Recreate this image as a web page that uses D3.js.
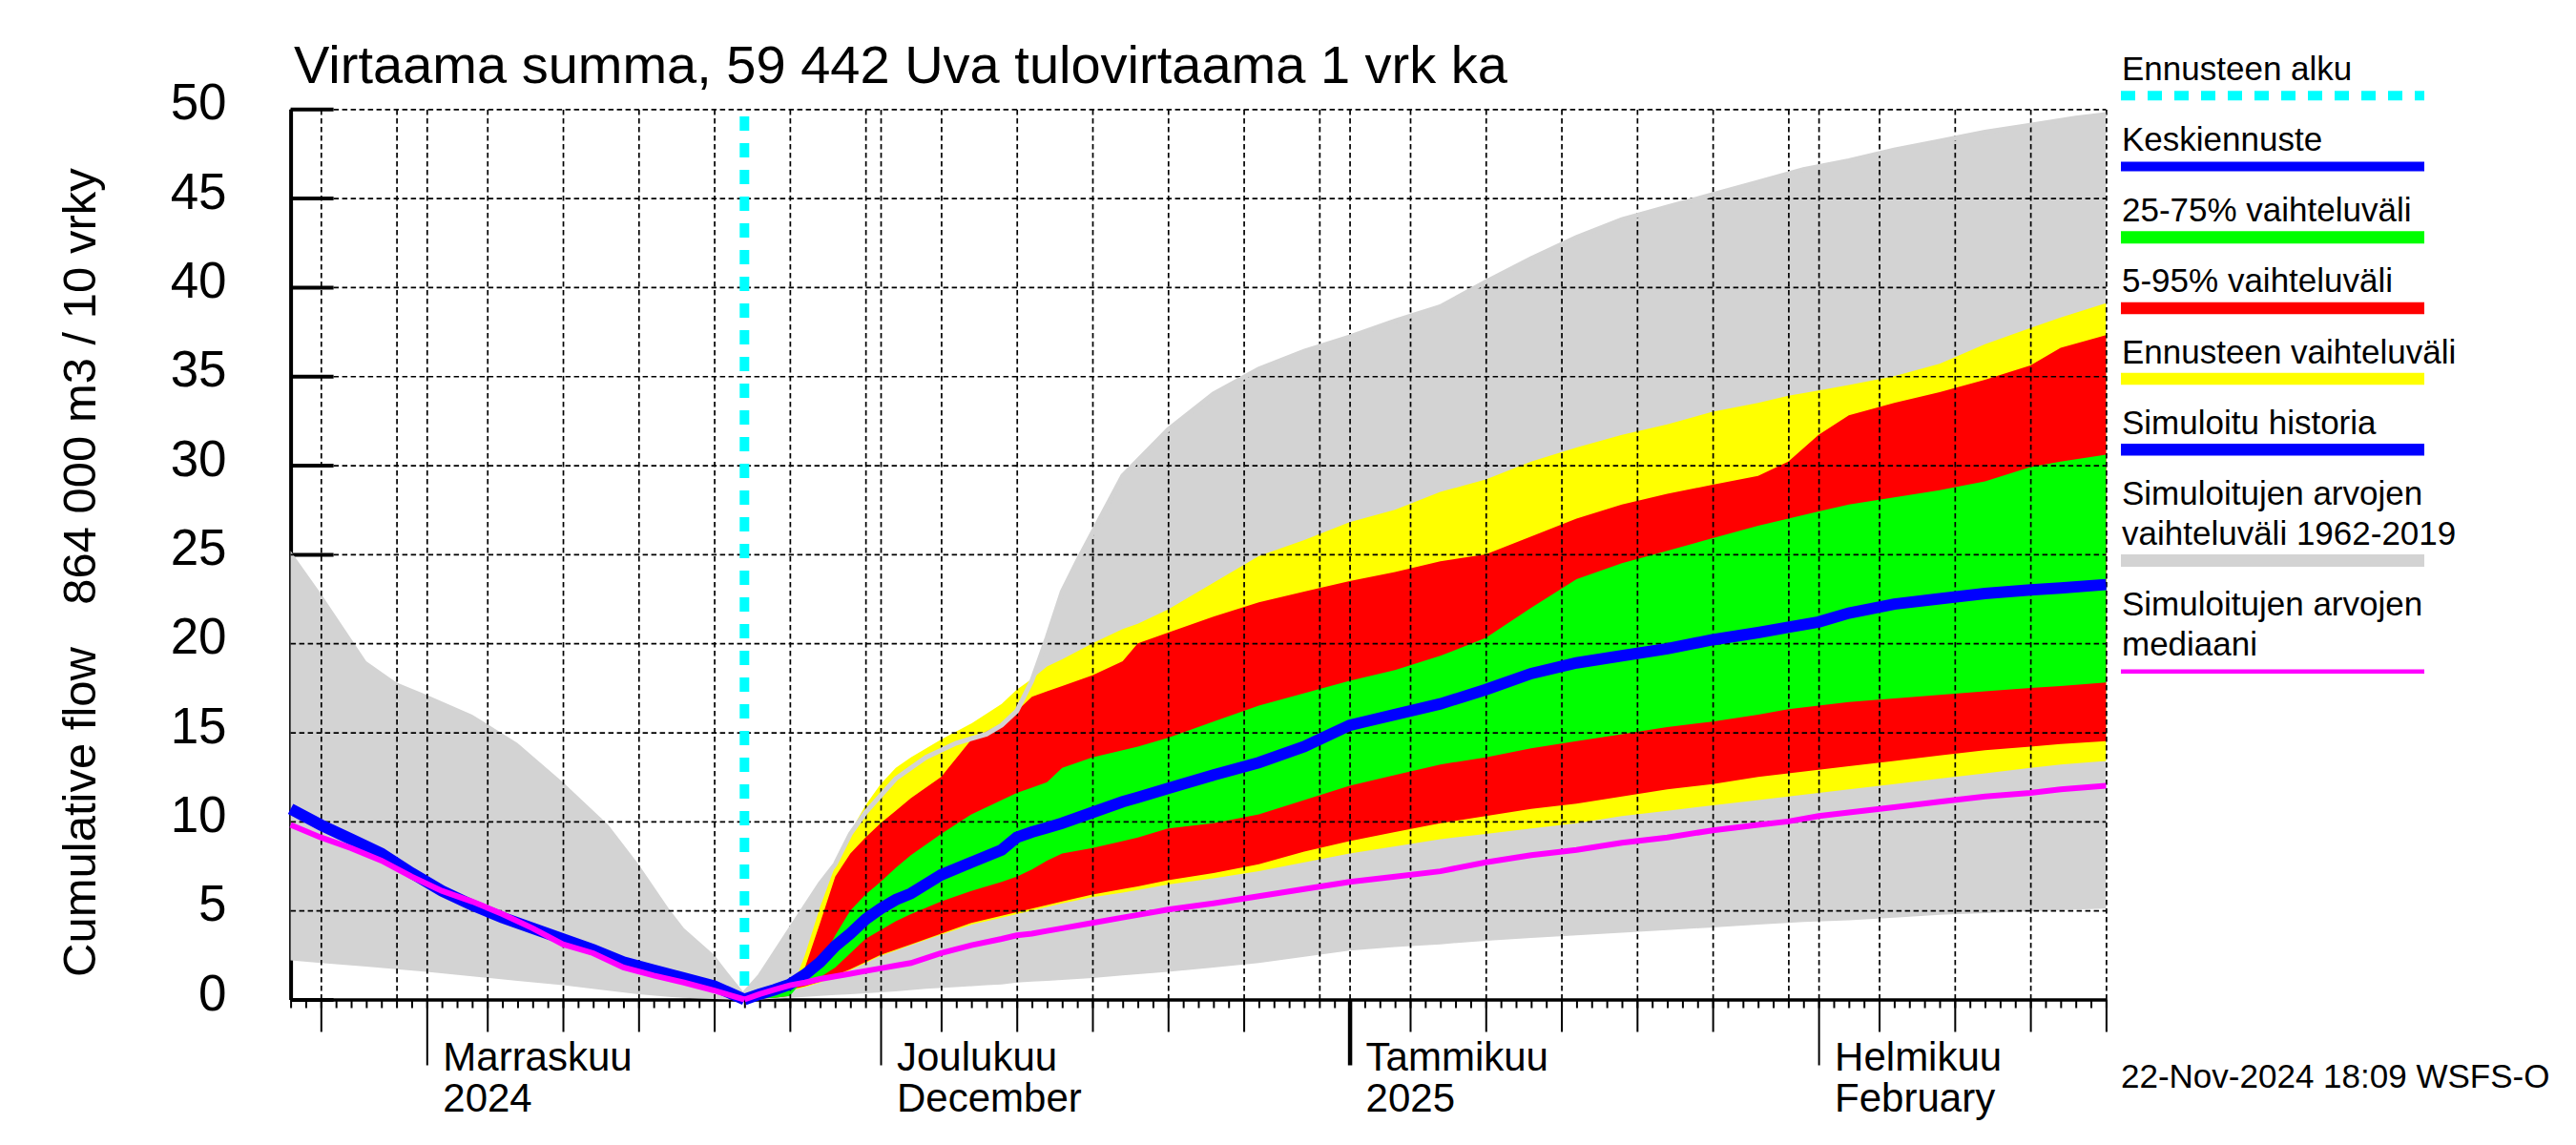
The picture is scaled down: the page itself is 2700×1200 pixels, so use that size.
<!DOCTYPE html>
<html>
    <head>
        <meta charset="utf-8">
        <style>

        body {
            margin: 0;
            background: #fff;
        }

        svg {
            display: block;
        }

        .grid line {
            stroke: #000;
            stroke-width: 1.7px;
            stroke-dasharray: 5.5, 3.5;
        }

        .grid path {
            display: none;
        }

        </style>
        <script src="https://d3js.org/d3.v7.min.js"></script>
    </head>

    <body>
        <script>

            var parseDate = d3.utcParse("%Y-%m-%d");

            // simulated history before the forecast
            var histDates = ["2024-10-23", "2024-10-25", "2024-10-27", "2024-10-29", "2024-10-31", "2024-11-02",
                "2024-11-04", "2024-11-06", "2024-11-08", "2024-11-10", "2024-11-12", "2024-11-14",
                "2024-11-16", "2024-11-18", "2024-11-20", "2024-11-22"];
            var histSim = [10.7, 9.8, 9.0, 8.2, 7.1, 6.1, 5.3, 4.6, 4.0, 3.4, 2.8, 2.1, 1.65, 1.2, 0.75, 0];
            var histMedian = [9.8, 9.1, 8.5, 7.8, 6.9, 6.1, 5.5, 4.8, 4.0, 3.1, 2.6, 1.8, 1.35, 0.95, 0.5, 0];

            // range of simulated values 1962-2019
            var greyDates = ["2024-10-23", "2024-10-25", "2024-10-28", "2024-10-30", "2024-11-01", "2024-11-04",
                "2024-11-07", "2024-11-10", "2024-11-13", "2024-11-15", "2024-11-17", "2024-11-18",
                "2024-11-20", "2024-11-21", "2024-11-22", "2024-11-23", "2024-11-25", "2024-11-27",
                "2024-11-28", "2024-11-29", "2024-11-30", "2024-12-02", "2024-12-04", "2024-12-06",
                "2024-12-08", "2024-12-09", "2024-12-10", "2024-12-11", "2024-12-12", "2024-12-13",
                "2024-12-14", "2024-12-15", "2024-12-17", "2024-12-20", "2024-12-23", "2024-12-26",
                "2024-12-29", "2025-01-01", "2025-01-04", "2025-01-07", "2025-01-10", "2025-01-13",
                "2025-01-16", "2025-01-19", "2025-01-22", "2025-01-25", "2025-01-28", "2025-01-31",
                "2025-02-03", "2025-02-06", "2025-02-09", "2025-02-12", "2025-02-15", "2025-02-18",
                "2025-02-20"];
            var greyHigh = [25.2, 22.8, 19.0, 17.8, 17.1, 16.0, 14.4, 12.2, 9.8, 7.6, 5.1, 4.0, 2.5, 1.4, 0.35,
                1.3, 3.9, 6.5, 7.6, 9.3, 10.5, 12.4, 13.6, 14.4, 14.9, 15.4, 16.2, 17.9, 20.3, 22.9,
                24.6, 26.2, 29.4, 32.0, 34.0, 35.4, 36.4, 37.2, 38.1, 38.9, 40.3, 41.6, 42.8, 43.8, 44.5,
                45.2, 45.9, 46.6, 47.1, 47.7, 48.2, 48.7, 49.1, 49.5, 49.7];
            var greyLow = [2.2, 2.05, 1.85, 1.7, 1.55, 1.3, 1.05, 0.8, 0.5, 0.3, 0.15, 0.1, 0.03, 0, 0,
                0, 0.1, 0.2, 0.25, 0.3, 0.35, 0.45, 0.6, 0.7, 0.8, 0.85, 0.95, 1.0, 1.05, 1.1,
                1.15, 1.2, 1.35, 1.55, 1.8, 2.05, 2.4, 2.75, 2.95, 3.1, 3.3, 3.45, 3.6, 3.75, 3.9,
                4.05, 4.2, 4.35, 4.45, 4.6, 4.75, 4.85, 4.95, 5.05, 5.1];

            // forecast
            var forecastStart = "2024-11-22";
            var fcDates = ["2024-11-22", "2024-11-23", "2024-11-24", "2024-11-25", "2024-11-26", "2024-11-27",
                "2024-11-28", "2024-11-29", "2024-11-30", "2024-12-01", "2024-12-02", "2024-12-03",
                "2024-12-05", "2024-12-07", "2024-12-09", "2024-12-10", "2024-12-11", "2024-12-12",
                "2024-12-13", "2024-12-15", "2024-12-17", "2024-12-18", "2024-12-20", "2024-12-23",
                "2024-12-26", "2024-12-29", "2025-01-01", "2025-01-04", "2025-01-07", "2025-01-10",
                "2025-01-13", "2025-01-16", "2025-01-19", "2025-01-22", "2025-01-25", "2025-01-28",
                "2025-01-30", "2025-02-01", "2025-02-03", "2025-02-06", "2025-02-09", "2025-02-12",
                "2025-02-15", "2025-02-17", "2025-02-20"];
            var yellowHigh = [0, 0.05, 0.1, 0.3, 2.5, 5.2, 7.5, 9.4, 10.9, 12.1, 13.0, 13.6, 14.6, 15.5, 16.6,
                17.4, 18.0, 18.7, 19.1, 20.0, 20.8, 21.1, 21.9, 23.4, 24.9, 25.8, 26.8, 27.5, 28.5, 29.2,
                30.2, 31.0, 31.7, 32.3, 33.0, 33.5, 33.9, 34.2, 34.5, 35.0, 35.7, 36.8, 37.7, 38.3, 39.1];
            var yellowLow = [0, 0.2, 0.38, 0.5, 0.7, 0.95, 1.3, 1.65, 2.05, 2.45, 2.75, 3.05, 3.65, 4.2, 4.6,
                4.8, 5.0, 5.2, 5.4, 5.75, 6.0, 6.15, 6.45, 6.8, 7.2, 7.7, 8.2, 8.6, 9.0, 9.3,
                9.6, 9.9, 10.3, 10.6, 10.9, 11.2, 11.4, 11.6, 11.8, 12.1, 12.4, 12.7, 13.0, 13.2, 13.4];
            var redHigh = [0, 0.05, 0.1, 0.2, 1.8, 4.3, 6.9, 8.2, 9.1, 9.9, 10.6, 11.3, 12.5, 14.6, 15.5,
                16.2, 17.0, 17.3, 17.6, 18.2, 19.0, 20.0, 20.6, 21.5, 22.3, 22.9, 23.5, 24.0, 24.6, 25.0,
                26.0, 27.0, 27.8, 28.4, 28.9, 29.4, 30.2, 31.7, 32.8, 33.5, 34.1, 34.8, 35.6, 36.6, 37.3];
            var redLow = [0, 0.2, 0.4, 0.55, 0.75, 1.0, 1.35, 1.7, 2.1, 2.5, 2.8, 3.1, 3.7, 4.3, 4.7,
                4.9, 5.1, 5.3, 5.5, 5.9, 6.2, 6.35, 6.7, 7.1, 7.6, 8.3, 8.9, 9.4, 9.9, 10.3,
                10.7, 11.0, 11.4, 11.8, 12.1, 12.5, 12.7, 12.9, 13.1, 13.4, 13.7, 14.0, 14.2, 14.35, 14.5];
            var greenHigh = [0, 0.05, 0.1, 0.2, 1.2, 2.0, 3.6, 5.0, 5.9, 6.6, 7.4, 8.1, 9.3, 10.4, 11.2,
                11.6, 11.9, 12.2, 13.0, 13.6, 14.0, 14.2, 14.7, 15.6, 16.5, 17.2, 17.9, 18.5, 19.3, 20.3,
                22.0, 23.6, 24.5, 25.2, 25.9, 26.6, 27.0, 27.4, 27.8, 28.2, 28.6, 29.1, 29.9, 30.2, 30.6];
            var greenLow = [0, 0.25, 0.45, 0.65, 0.95, 1.25, 1.8, 2.6, 3.4, 3.9, 4.4, 4.8, 5.5, 6.1, 6.6,
                6.9, 7.3, 7.8, 8.2, 8.5, 8.9, 9.1, 9.6, 9.9, 10.4, 11.2, 12.0, 12.6, 13.2, 13.6,
                14.1, 14.5, 14.9, 15.3, 15.6, 16.0, 16.3, 16.5, 16.7, 16.9, 17.1, 17.3, 17.5, 17.6, 17.8];
            var fcMean = [0, 0.3, 0.55, 0.85, 1.4, 2.1, 3.0, 3.7, 4.5, 5.1, 5.6, 5.95, 7.0, 7.7, 8.4,
                9.1, 9.4, 9.65, 9.9, 10.5, 11.1, 11.35, 11.85, 12.6, 13.3, 14.2, 15.4, 16.0, 16.6, 17.4,
                18.3, 18.9, 19.3, 19.7, 20.2, 20.6, 20.9, 21.2, 21.7, 22.2, 22.5, 22.8, 23.0, 23.1, 23.3];
            var fcMedian = [0, 0.3, 0.55, 0.8, 0.95, 1.15, 1.3, 1.45, 1.6, 1.75, 1.9, 2.05, 2.6, 3.05, 3.4,
                3.6, 3.7, 3.85, 4.0, 4.3, 4.6, 4.75, 5.05, 5.4, 5.8, 6.2, 6.6, 6.9, 7.2, 7.7,
                8.1, 8.4, 8.8, 9.1, 9.5, 9.8, 10.0, 10.3, 10.5, 10.8, 11.1, 11.4, 11.6, 11.8, 12.0];

            // axis texts
            var yTicks = [0, 5, 10, 15, 20, 25, 30, 35, 40, 45, 50];
            var monthDates = ["2024-11-01", "2024-12-01", "2025-01-01", "2025-02-01"];
            var monthLabels = [["Marraskuu", "2024"], ["Joulukuu", "December"], ["Tammikuu", "2025"], ["Helmikuu", "February"]];
            var legendLabels = [["Ennusteen alku"], ["Keskiennuste"], ["25-75% vaihteluväli"], ["5-95% vaihteluväli"],
                ["Ennusteen vaihteluväli"], ["Simuloitu historia"], ["Simuloitujen arvojen", "vaihteluväli 1962-2019"],
                ["Simuloitujen arvojen", "mediaani"]];
            var legendColors = ["#00ffff", "#0000ff", "#00ff00", "#ff0000", "#ffff00", "#0000ff", "#d3d3d3", "#ff00ff"];
            var legendWidths = [10, 10, 13, 12.5, 12.5, 12.5, 13, 4.5];

            var font = '"Liberation Sans", Arial, Helvetica, sans-serif';
            var plot = {left: 304.6, right: 2207.4, top: 114.3, bottom: 1047.5};

            var x = d3.scaleUtc()
                .domain([parseDate("2024-10-23"), parseDate("2025-02-20")])
                .range([plot.left, plot.right]);

            var y = d3.scaleLinear()
                .domain([0, 50])
                .range([plot.bottom, plot.top]);

            var svg = d3.select("body").append("svg")
                .attr("width", 2700)
                .attr("height", 1200)
                .style("font-family", font);

            var rows = function(dates, cols) {
                return dates.map(function(s, i) {
                    var r = {date: parseDate(s)};
                    for (var k in cols) { r[k] = cols[k][i]; }
                    return r;
                });
            };

            var hist = rows(histDates, {sim: histSim, med: histMedian});
            var grey = rows(greyDates, {lo: greyLow, hi: greyHigh});
            var fc = rows(fcDates, {ylo: yellowLow, yhi: yellowHigh, rlo: redLow, rhi: redHigh,
                glo: greenLow, ghi: greenHigh, mean: fcMean, med: fcMedian});

            // ---- axes (drawn first, bands go over them)
            var start = x.domain()[0], end = x.domain()[1];
            var allDays = d3.utcDay.range(start, d3.utcDay.offset(end, 1));
            var midDays = allDays.filter(function(d) { return [5, 10, 15, 20, 25].indexOf(d.getUTCDate()) >= 0; });
            var months = monthDates.map(parseDate);
            var gridDays = allDays.filter(function(d) { return [1, 5, 10, 15, 20, 25, 30].indexOf(d.getUTCDate()) >= 0; });

            var xMinor = svg.append("g")
                .attr("transform", "translate(0," + plot.bottom + ")")
                .call(d3.axisBottom(x).tickValues(allDays).tickSizeInner(9).tickSizeOuter(0).tickFormat(""));
            xMinor.selectAll(".tick line").attr("stroke-width", 2);
            xMinor.select(".domain").attr("stroke-width", 3.5);

            var xMid = svg.append("g")
                .attr("transform", "translate(0," + plot.bottom + ")")
                .call(d3.axisBottom(x).tickValues(midDays).tickSize(34).tickFormat(""));
            xMid.select(".domain").remove();
            xMid.selectAll(".tick line").attr("stroke-width", 2);

            var xMonth = svg.append("g")
                .attr("transform", "translate(0," + plot.bottom + ")")
                .call(d3.axisBottom(x).tickValues(months).tickSize(69).tickFormat(""));
            xMonth.select(".domain").remove();
            xMonth.selectAll(".tick line")
                .attr("stroke-width", function(d) { return d.getUTCMonth() === 0 ? 4.5 : 2; });

            var yAxis = svg.append("g")
                .attr("transform", "translate(" + plot.left + ",0)")
                .call(d3.axisLeft(y).tickValues(yTicks).tickSizeInner(-45).tickSizeOuter(0).tickPadding(67));
            yAxis.attr("font-family", font).attr("font-size", 53);
            yAxis.select(".domain").attr("stroke-width", 4);
            yAxis.selectAll(".tick line").attr("stroke-width", 4);
            yAxis.selectAll(".tick text").attr("dy", "0.2em").attr("fill", "#000");

            // ---- bands
            var band = function(lo, hi) {
                return d3.area()
                    .x(function(d) { return x(d.date); })
                    .y0(function(d) { return y(d[lo]); })
                    .y1(function(d) { return y(d[hi]); });
            };

            svg.append("path").datum(grey).attr("fill", "#d3d3d3").attr("d", band("lo", "hi"));
            svg.append("path").datum(fc).attr("fill", "#ffff00").attr("d", band("ylo", "yhi"));
            svg.append("path").datum(fc).attr("fill", "#ff0000").attr("d", band("rlo", "rhi"));
            svg.append("path").datum(fc).attr("fill", "#00ff00").attr("d", band("glo", "ghi"));

            // ---- grid
            svg.append("g")
                .attr("class", "grid")
                .attr("transform", "translate(0," + plot.bottom + ")")
                .call(d3.axisBottom(x).tickValues(gridDays).tickSize(-(plot.bottom - plot.top)).tickFormat(""));

            svg.append("g")
                .attr("class", "grid")
                .attr("transform", "translate(" + plot.left + ",0)")
                .call(d3.axisLeft(y).tickValues(yTicks.slice(1)).tickSize(-(plot.right - plot.left)).tickFormat(""));

            // ---- lines
            var line = function(key) {
                return d3.line()
                    .x(function(d) { return x(d.date); })
                    .y(function(d) { return y(d[key]); });
            };

            // upper edge of the historical range shows through the forecast bands
            svg.append("path").datum(grey.filter(function(d) { return d.date >= parseDate(forecastStart); }))
                .attr("fill", "none").attr("stroke", "#d3d3d3").attr("stroke-width", 5)
                .attr("d", line("hi"));

            svg.append("path").datum(hist)
                .attr("fill", "none").attr("stroke", "#0000ff").attr("stroke-width", 12)
                .attr("d", line("sim"));
            svg.append("path").datum(fc)
                .attr("fill", "none").attr("stroke", "#0000ff").attr("stroke-width", 12)
                .attr("d", line("mean"));
            svg.append("path").datum(hist)
                .attr("fill", "none").attr("stroke", "#ff00ff").attr("stroke-width", 6)
                .attr("d", line("med"));
            svg.append("path").datum(fc)
                .attr("fill", "none").attr("stroke", "#ff00ff").attr("stroke-width", 6)
                .attr("d", line("med"));

            // forecast start
            svg.append("line")
                .attr("x1", x(parseDate(forecastStart))).attr("x2", x(parseDate(forecastStart)))
                .attr("y1", 122).attr("y2", 1042)
                .attr("stroke", "#00ffff").attr("stroke-width", 10)
                .attr("stroke-dasharray", "15,13");

            // ---- texts
            svg.append("text")
                .attr("x", 308).attr("y", 87)
                .attr("font-size", 56)
                .text("Virtaama summa, 59 442 Uva tulovirtaama 1 vrk ka");

            svg.append("text")
                .attr("transform", "translate(100,851) rotate(-90)")
                .attr("text-anchor", "middle")
                .attr("font-size", 49)
                .text("Cumulative flow");

            svg.append("text")
                .attr("transform", "translate(100,405) rotate(-90)")
                .attr("text-anchor", "middle")
                .attr("font-size", 49)
                .text("864 000 m3 / 10 vrky");

            months.forEach(function(m, i) {
                var t = svg.append("text")
                    .attr("font-size", 42)
                    .attr("x", x(m) + 17);
                t.append("tspan").attr("x", x(m) + 17).attr("y", 1122).text(monthLabels[i][0]);
                t.append("tspan").attr("x", x(m) + 17).attr("y", 1165).text(monthLabels[i][1]);
            });

            svg.append("text")
                .attr("x", 2223).attr("y", 1140)
                .attr("font-size", 35)
                .text("22-Nov-2024 18:09 WSFS-O");

            // ---- legend
            var ly = 100.3;
            legendLabels.forEach(function(lines, i) {
                if (i > 0) { ly += 74.2 + 42 * (lines.length - 1); }
                lines.forEach(function(s, j) {
                    svg.append("text")
                        .attr("x", 2224)
                        .attr("y", ly - 16.5 - 42 * (lines.length - 1 - j))
                        .attr("font-size", 35)
                        .text(s);
                });
                svg.append("line")
                    .attr("x1", 2223).attr("x2", 2541)
                    .attr("y1", ly).attr("y2", ly)
                    .attr("stroke", legendColors[i])
                    .attr("stroke-width", legendWidths[i])
                    .attr("stroke-dasharray", i === 0 ? "15,13" : null);
            });

        </script>
    </body>
</html>
